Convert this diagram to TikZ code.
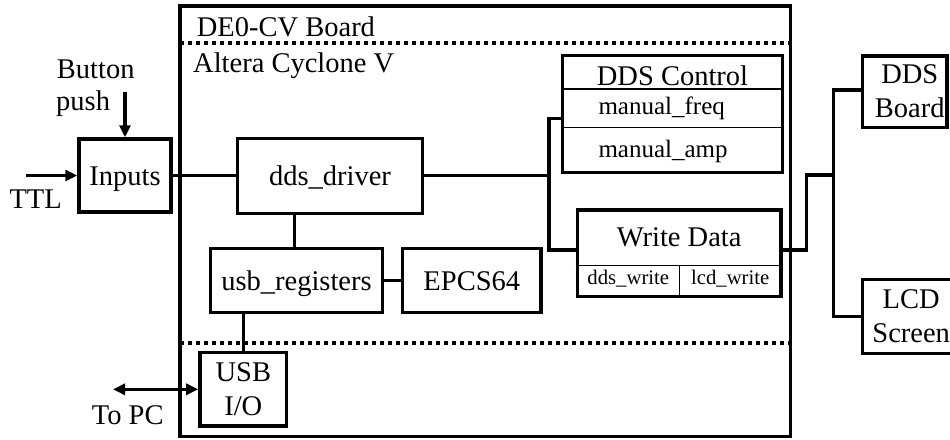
\documentclass[tikz,border=0pt]{standalone}
\usepackage{fontspec}
\setmainfont{Liberation Serif}
\usetikzlibrary{arrows.meta}
\newcommand{\bigf}{\fontsize{28.5pt}{34pt}\selectfont}
\newcommand{\medf}{\fontsize{25pt}{30pt}\selectfont}
\newcommand{\smallf}{\fontsize{20.7pt}{24pt}\selectfont}
\begin{document}
\begin{tikzpicture}[x=1pt,y=-1pt,
  box/.style={draw, line width=3.5pt, inner sep=0pt, font=\bigf, text height=23pt, text depth=3pt},
  mbox/.style={draw, line width=3.5pt, inner sep=0pt, font=\bigf, align=center},
  frame/.style={draw, line width=3.5pt, inner sep=0pt},
  wire/.style={line width=3.2pt},
  sepline/.style={line width=1.2pt},
  dotline/.style={line width=3.5pt, dash pattern=on 4pt off 4pt},
  arr/.style={wire, -{Triangle[length=12pt,width=11pt]}},
  darr/.style={wire, {Triangle[length=12pt,width=11pt]}-{Triangle[length=12pt,width=11pt]}},
  lbl/.style={inner sep=0pt, font=\bigf, anchor=base west},
  clbl/.style={inner sep=0pt, anchor=base},
]
\useasboundingbox (0,0) rectangle (950,439);
\clip (0,0) rectangle (950,439);

% board frame and dotted separators
\draw[line width=3.2pt] (180,6) rectangle (790.7,436.7);
\draw[dotline] (180,43) -- (790.7,43);
\draw[dotline] (180,343) -- (790.7,343);
\node[lbl] (board) at (196.7,36) {DE0-CV Board};
\node[lbl] (fpga) at (193,72) {Altera Cyclone V};

% boxes
\node[box, minimum width=92pt, minimum height=73pt] (inputs) at (125,175.5) {Inputs};
\node[box, minimum width=185.4pt, minimum height=75pt] (driver) at (330,175.8) {dds\_driver};
\node[box, minimum width=171.6pt, minimum height=64pt] (usbreg) at (296.5,280.3) {usb\_registers};
\node[box, minimum width=138.3pt, minimum height=64pt] (epcs) at (471.8,280.3) {EPCS64};
\node[mbox, minimum width=86.7pt, minimum height=73.3pt] (usbio) at (243.3,389.3) {USB\\I/O};
\node[mbox, minimum width=84.3pt, minimum height=71.3pt] (ddsb) at (904.8,91.7) {\hspace*{10pt}DDS\\\hspace*{10pt}Board};
\node[mbox, minimum width=97pt, minimum height=74pt] (lcd) at (911.2,316.3) {LCD\\Screen};

% DDS Control
\node[frame, minimum width=219.6pt, minimum height=117pt] (ctl) at (672.5,114.2) {};
\coordinate (cs1) at (0,89);
\coordinate (cs2) at (0,127.3);
\draw[sepline] (ctl.west |- cs1) -- (ctl.east |- cs1);
\draw[sepline] (ctl.west |- cs2) -- (ctl.east |- cs2);
\node[clbl, font=\bigf] (ctltitle) at (672.5,85) {DDS Control};
\node[lbl, font=\medf] (mfreq) at (598.3,114) {manual\_freq};
\node[lbl, font=\medf] (mamp) at (598.3,157.3) {manual\_amp};

% Write Data
\node[frame, minimum width=203.7pt, minimum height=86.7pt] (wd) at (679.2,253.3) {};
\coordinate (ws) at (679.3,265.7);
\draw[sepline] (wd.west |- ws) -- (wd.east |- ws);
\draw[sepline] (ws) -- (ws |- wd.south);
\node[clbl, font=\bigf] (wdtitle) at (679.2,246.7) {Write Data};
\node[clbl, font=\smallf] (ddsw) at (628.3,284) {dds\_write};
\node[clbl, font=\smallf] (lcdw) at (730.2,284) {lcd\_write};

% connectors
\draw[wire] (inputs.east) -- (inputs.east -| driver.west);
\coordinate (ja) at (549,118.3);
\coordinate (jb) at (549,250);
\draw[wire] (driver.east) -- (driver.east -| ja);
\draw[wire] (ctl.west |- ja) -- (ja) -- (jb) -- (wd.west |- jb);
\coordinate (r1) at (806.7,250);
\coordinate (r2) at (806.7,175);
\coordinate (r3) at (833.3,175);
\coordinate (r4) at (833.3,90);
\coordinate (r5) at (833.3,316.7);
\draw[wire] (wd.east |- r1) -- (r1) -- (r2) -- (r3);
\draw[wire] (ddsb.west |- r4) -- (r4) -- (r5) -- (lcd.west |- r5);
\coordinate (v1) at (294.3,0);
\draw[wire] (driver.south -| v1) -- (usbreg.north -| v1);
\draw[wire] (usbreg.east) -- (epcs.west);
\draw[wire] (usbreg.south -| usbio.north) -- (usbio.north);

% external signals
\coordinate (bp) at (125,92);
\draw[arr] (bp) -- (inputs.north);
\coordinate (ttl) at (26,175.5);
\draw[arr] (ttl) -- (inputs.west);
\coordinate (pc) at (113,389.3);
\draw[darr] (pc) -- (usbio.west);
\node[lbl] (ttltxt) at (9.3,208.3) {TTL};
\node[lbl] (btn) at (56.7,78.3) {Button};
\node[lbl] (push) at (56,110) {push};
\node[lbl] (topc) at (91.7,424) {To PC};
\end{tikzpicture}
\end{document}
